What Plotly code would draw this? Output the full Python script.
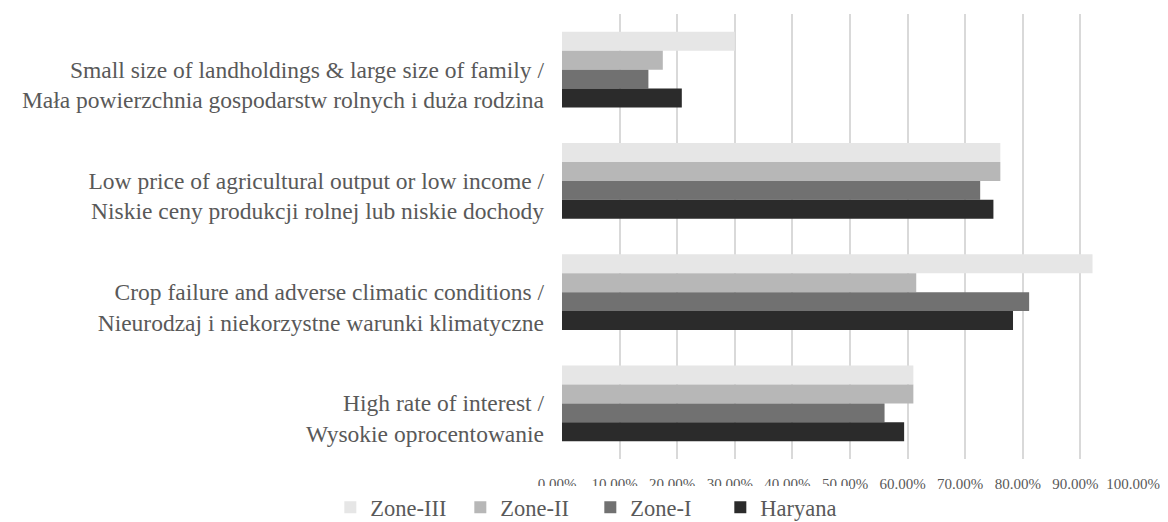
import plotly.graph_objects as go

categories = [
    "Small size of landholdings & large size of family /<br>Mała powierzchnia gospodarstw rolnych i duża rodzina",
    "Low price of agricultural output or low income /<br>Niskie ceny produkcji rolnej lub niskie dochody",
    "Crop failure and adverse climatic conditions /<br>Nieurodzaj i niekorzystne warunki klimatyczne",
    "High rate of interest /<br>Wysokie oprocentowanie",
]
series_names = ["Zone-III", "Zone-II", "Zone-I", "Haryana"]
zone_iii = [0.300, 0.761, 0.921, 0.610]
zone_ii = [0.175, 0.761, 0.615, 0.610]
zone_i = [0.150, 0.726, 0.811, 0.560]
haryana = [0.208, 0.749, 0.783, 0.594]
tick_vals = [i / 10 for i in range(11)]
tick_text = [f"{v*100:.2f}%" for v in tick_vals]

colors = ["#e6e6e6", "#b7b7b7", "#717171", "#2b2b2b"]
values = [zone_iii, zone_ii, zone_i, haryana]

fig = go.Figure()
for name, vals, col in zip(series_names, values, colors):
    fig.add_trace(go.Bar(
        y=categories, x=vals, name=name, orientation="h",
        marker=dict(color=col, line=dict(width=0)),
    ))

font_family = "Liberation Serif, Times New Roman, serif"
# page body has an 8px default margin, so the figure is 8px smaller each way
fig.update_layout(
    width=1160, height=514,
    margin=dict(l=554, r=30, t=6, b=63, autoexpand=False),
    paper_bgcolor="white", plot_bgcolor="white",
    barmode="group", bargap=0.317, bargroupgap=0,
    font=dict(family=font_family, color="#595959"),
    legend=dict(orientation="h", xref="container", yref="container",
                x=0.502, xanchor="center", y=0.028, yanchor="middle",
                font=dict(size=22.5, color="#595959"), itemwidth=30,
                entrywidth=85, traceorder="normal"),
    xaxis=dict(range=[0, 1], tickvals=tick_vals, ticktext=tick_text,
               showgrid=True, gridcolor="#d9d9d9", gridwidth=1.5,
               zeroline=False, showline=False, automargin=False,
               tickfont=dict(size=15, color="#595959"), ticklabelstandoff=14,
               ticklabelshift=-5),
    yaxis=dict(categoryorder="array", categoryarray=categories, autorange="reversed",
               showgrid=False, zeroline=False, showline=False, automargin=False,
               tickfont=dict(size=23.5, color="#595959"), ticklabelstandoff=17,
               ticklabelshift=-15),
)
fig.write_html("out.html")
